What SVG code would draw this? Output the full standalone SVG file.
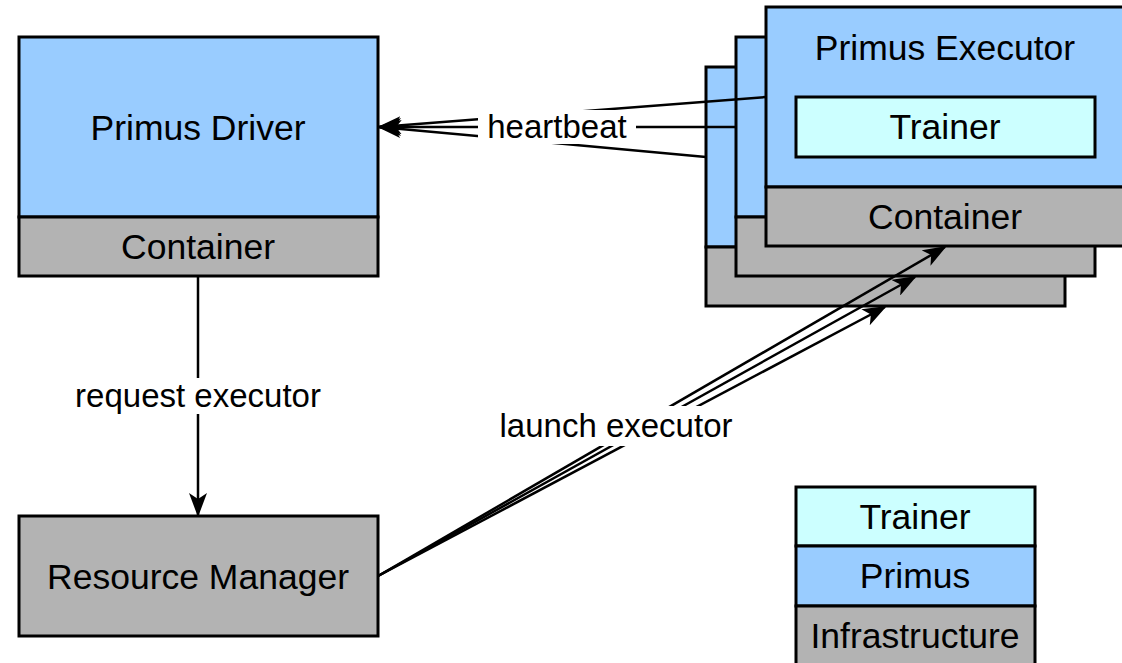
<svg xmlns="http://www.w3.org/2000/svg" width="1122" height="663" viewBox="0 0 1122 663">
<defs>
<style>
.box{stroke:#000;stroke-width:3}
.blue{fill:#99CCFF}
.cyan{fill:#CCFFFF}
.gray{fill:#B3B3B3}
.t{font-family:"Liberation Sans",Arial,sans-serif;font-size:35.5px;fill:#000;text-anchor:middle}
.lbl{font-family:"Liberation Sans",Arial,sans-serif;font-size:33px;fill:#000;text-anchor:middle}
.edge{stroke:#000;stroke-width:2.5;fill:none}
</style>
<marker id="arr" markerUnits="userSpaceOnUse" markerWidth="24" markerHeight="18" viewBox="0 0 24 18" refX="22" refY="9" orient="auto">
<path d="M24 9 L0 0 L6 9 L0 18 Z" fill="#000"/>
</marker>
</defs>
<rect width="1122" height="663" fill="#fff"/>
<g id="driver">
<rect class="box blue" x="19" y="37" width="359" height="180"/>
<rect class="box gray" x="19" y="217" width="359" height="59"/>
<text class="t" x="198" y="140">Primus Driver</text>
<text class="t" x="198" y="259">Container</text>
</g>
<g id="resource-manager">
<rect class="box gray" x="19" y="516" width="359" height="120"/>
<text class="t" x="198" y="589">Resource Manager</text>
</g>
<g id="executor-3">
<rect class="box blue" x="706" y="67" width="359" height="180"/>
<rect class="box gray" x="706" y="247" width="359" height="59"/>
</g>
<g id="executor-2">
<rect class="box blue" x="736" y="37" width="359" height="180"/>
<rect class="box gray" x="736" y="217" width="359" height="59"/>
</g>
<g id="executor-1">
<rect class="box blue" x="766" y="7" width="360" height="180"/>
<rect class="box gray" x="766" y="187" width="360" height="59"/>
<text class="t" x="945" y="60">Primus Executor</text>
<text class="t" x="945" y="229">Container</text>
</g>
<g id="trainer">
<rect class="box cyan" x="796" y="97" width="299" height="60"/>
<text class="t" x="945" y="139">Trainer</text>
</g>
<g id="legend">
<rect class="box cyan" x="796" y="487" width="239" height="59"/>
<rect class="box blue" x="796" y="546" width="239" height="60"/>
<rect class="box gray" x="796" y="606" width="239" height="60"/>
<text class="t" x="915" y="529">Trainer</text>
<text class="t" x="915" y="588">Primus</text>
<text class="t" x="915" y="648">Infrastructure</text>
</g>
<g id="connectors">
<line class="edge" x1="198" y1="276" x2="198" y2="515" marker-end="url(#arr)"/>
<line class="edge" x1="766" y1="97" x2="379" y2="127" marker-end="url(#arr)"/>
<line class="edge" x1="736" y1="127" x2="379" y2="127" marker-end="url(#arr)"/>
<line class="edge" x1="706" y1="157" x2="379" y2="127" marker-end="url(#arr)"/>
<line class="edge" x1="378" y1="576" x2="945" y2="247" marker-end="url(#arr)"/>
<line class="edge" x1="378" y1="576" x2="915" y2="277" marker-end="url(#arr)"/>
<line class="edge" x1="378" y1="576" x2="885" y2="307" marker-end="url(#arr)"/>
<rect x="70" y="378" width="257" height="36" fill="#fff"/>
<text class="lbl" x="198" y="407">request executor</text>
<rect x="478" y="110" width="158" height="34" fill="#fff"/>
<text class="lbl" x="557" y="138">heartbeat</text>
<rect x="492" y="406" width="249" height="40" fill="#fff"/>
<text class="lbl" x="616" y="437">launch executor</text>
</g>
</svg>
